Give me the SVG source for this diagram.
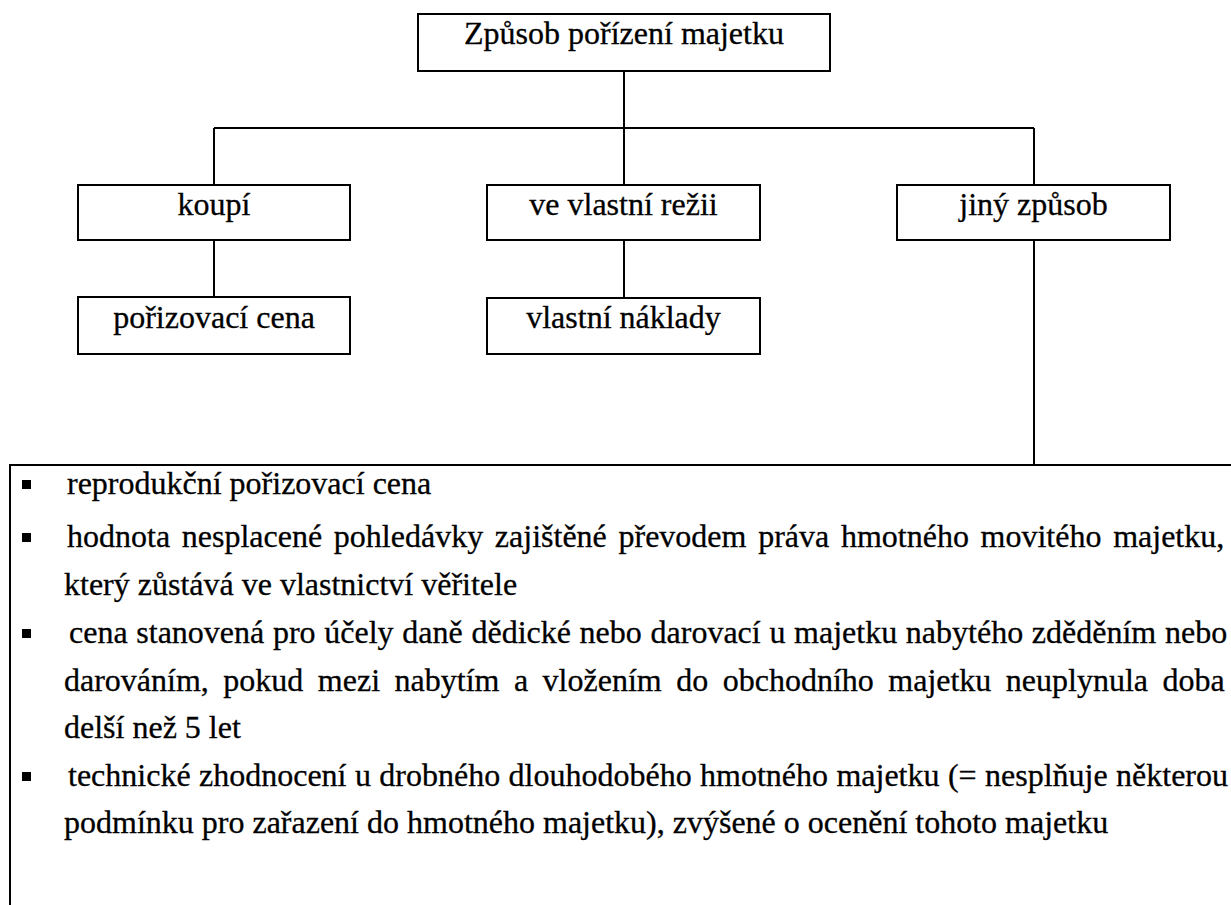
<svg xmlns="http://www.w3.org/2000/svg" width="1231" height="905" viewBox="0 0 1231 905">
<style>
.box{fill:#fff;stroke:#000;stroke-width:2}
.ln{fill:none;stroke:#000;stroke-width:2}
text{font-family:'Liberation Serif','Times New Roman',serif;font-size:32px;fill:#000;stroke:#000;stroke-width:0.3}
.c{text-anchor:middle}
.b{fill:#000}
</style>
<rect width="1231" height="905" fill="#fff"/>
<g id="connectors">
<path class="ln" d="M624 71V128M214 128H1034M214 128V185M624 128V185M1034 128V185M214 240V297M624 240V298M1034 240V465"/>
</g>
<g id="root"><rect class="box" x="418" y="14" width="412" height="57"/><text class="c" x="624" y="44">Způsob pořízení majetku</text></g>
<g id="koupi"><rect class="box" x="78" y="185" width="272" height="55"/><text class="c" x="214" y="215">koupí</text></g>
<g id="rezie"><rect class="box" x="487" y="185" width="273" height="55"/><text class="c" x="623.5" y="215">ve vlastní režii</text></g>
<g id="jiny"><rect class="box" x="897" y="185" width="273" height="55"/><text class="c" x="1033.5" y="215">jiný způsob</text></g>
<g id="porizovaci"><rect class="box" x="78" y="297" width="272" height="57"/><text class="c" x="214" y="328">pořizovací cena</text></g>
<g id="naklady"><rect class="box" x="487" y="298" width="273" height="56"/><text class="c" x="623.5" y="328">vlastní náklady</text></g>
<g id="list">
<path class="box" d="M1240 465H10V912"/>
<rect class="b" x="22" y="480" width="9" height="9"/>
<rect class="b" x="22" y="533" width="9" height="9"/>
<rect class="b" x="22" y="629" width="9" height="9"/>
<rect class="b" x="22" y="772" width="9" height="9"/>
<text x="67" y="494">reprodukční pořizovací cena</text>
<text x="67" y="547" word-spacing="3.7">hodnota nesplacené pohledávky zajištěné převodem práva hmotného movitého majetku,</text>
<text x="64" y="595">který zůstává ve vlastnictví věřitele</text>
<text x="69" y="643" word-spacing="0.7">cena stanovená pro účely daně dědické nebo darovací u majetku nabytého zděděním nebo</text>
<text x="64" y="691" word-spacing="6.5">darováním, pokud mezi nabytím a vložením do obchodního majetku neuplynula doba</text>
<text x="64" y="738">delší než 5 let</text>
<text x="68" y="786" word-spacing="0.4">technické zhodnocení u drobného dlouhodobého hmotného majetku (= nesplňuje některou</text>
<text x="64" y="833">podmínku pro zařazení do hmotného majetku), zvýšené o ocenění tohoto majetku</text>
</g>
</svg>
